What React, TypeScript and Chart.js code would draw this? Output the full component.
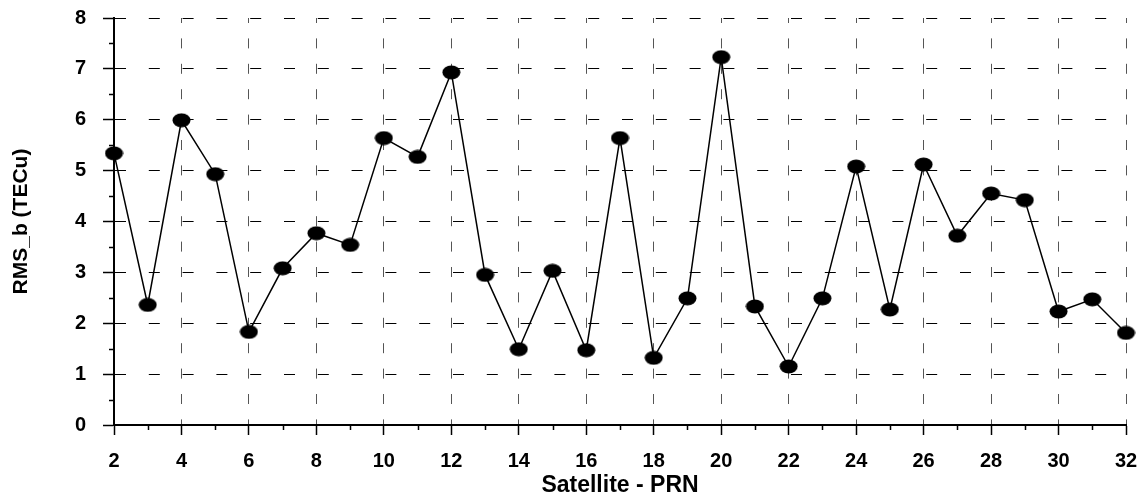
import React, { useEffect, useRef } from "react";
import { Chart, registerables } from "chart.js";

Chart.register(...registerables);

const prn: number[] = [2, 3, 4, 5, 6, 7, 8, 9, 10, 11, 12, 13, 14, 15, 16, 17, 18, 19, 20, 21, 22, 23, 24, 25, 26, 27, 28, 29, 30, 31, 32];
const rms: number[] = [5.34, 2.36, 5.99, 4.93, 1.83, 3.08, 3.77, 3.54, 5.64, 5.27, 6.93, 2.95, 1.49, 3.03, 1.47, 5.64, 1.32, 2.49, 7.23, 2.33, 1.15, 2.49, 5.08, 2.27, 5.12, 3.72, 4.55, 4.42, 2.23, 2.47, 1.81];
const yMinorTicks: number[] = [0.5, 1.5, 2.5, 3.5, 4.5, 5.5, 6.5, 7.5];
const xMinorTicks: number[] = [3, 5, 7, 9, 11, 13, 15, 17, 19, 21, 23, 25, 27, 29, 31];

const FONT = "'Liberation Sans', Arial, sans-serif";

function makeMarker(): HTMLCanvasElement {
  const c = document.createElement("canvas");
  c.width = 19;
  c.height = 15;
  const g = c.getContext("2d")!;
  g.fillStyle = "#000";
  g.beginPath();
  g.ellipse(9.5, 7.5, 9, 7, 0, 0, Math.PI * 2);
  g.fill();
  return c;
}

const minorTicksPlugin = {
  id: "minorTicks",
  afterDraw(chart: any) {
    const { ctx, scales, chartArea } = chart;
    const x = scales.x;
    const y = scales.y;
    ctx.save();
    ctx.strokeStyle = "#000";
    ctx.lineWidth = 1.5;
    ctx.beginPath();
    for (const v of yMinorTicks) {
      const py = Math.round(y.getPixelForValue(v)) + 0.5;
      ctx.moveTo(chartArea.left - 5, py);
      ctx.lineTo(chartArea.left, py);
    }
    for (const v of xMinorTicks) {
      const px = Math.round(x.getPixelForValue(v)) + 0.5;
      ctx.moveTo(px, chartArea.bottom);
      ctx.lineTo(px, chartArea.bottom + 5);
    }
    ctx.stroke();
    ctx.restore();
  },
};

export default function App() {
  const ref = useRef<HTMLCanvasElement | null>(null);
  useEffect(() => {
    document.body.style.margin = "0";
    const canvas = ref.current!;
    const marker = makeMarker();
    const chart = new Chart(canvas, {
      type: "line",
      data: {
        datasets: [
          {
            data: prn.map((p, i) => ({ x: p, y: rms[i] })),
            borderColor: "#000",
            borderWidth: 1.5,
            pointStyle: marker as any,
            pointRadius: 8,
            pointHoverRadius: 8,
            backgroundColor: "#000",
            tension: 0,
            clip: false as any,
          },
        ],
      },
      options: {
        responsive: false,
        animation: false,
        events: [],
        layout: { padding: { top: 18, right: 17, left: 0, bottom: 0 } },
        plugins: { legend: { display: false }, tooltip: { enabled: false } },
        scales: {
          x: {
            type: "linear",
            min: 2,
            max: 32,
            afterFit(scale: any) {
              scale.height = 74;
              scale.paddingLeft = 0;
              scale.paddingRight = 0;
            },
            ticks: {
              stepSize: 1,
              autoSkip: false,
              maxRotation: 0,
              padding: 14,
              color: "#000",
              font: { family: FONT, size: 20, weight: "bold" },
              callback: (v: any) => (Number(v) % 2 === 0 ? String(v) : ""),
            },
            grid: {
              color: (c: any) => (c.tick && c.tick.value % 2 === 0 ? "#555" : "rgba(0,0,0,0)"),
              tickColor: (c: any) => (c.tick && c.tick.value % 2 === 0 ? "#000" : "rgba(0,0,0,0)"),
              lineWidth: 1,
              tickLength: 10,
              tickWidth: 1.5,
            },
            border: { display: true, color: "#000", width: 2, dash: [10, 15.4], dashOffset: 5 },
            title: {
              display: true,
              text: "Satellite - PRN",
              color: "#000",
              font: { family: FONT, size: 23, weight: "bold" },
              padding: { top: 0, bottom: 0 },
            },
          },
          y: {
            type: "linear",
            min: 0,
            max: 8,
            afterFit(scale: any) {
              scale.width = 114;
              scale.paddingTop = 0;
              scale.paddingBottom = 0;
            },
            ticks: {
              stepSize: 1,
              padding: 17,
              color: "#000",
              font: { family: FONT, size: 20, weight: "bold" },
            },
            grid: {
              color: "#000",
              lineWidth: 1,
              tickLength: 11,
              tickColor: "#000",
              tickWidth: 1.5,
            },
            border: { display: true, color: "#000", width: 2, dash: [11, 22.8] },
            title: {
              display: true,
              text: "RMS_b (TECu)",
              color: "#000",
              font: { family: FONT, size: 21, weight: "bold" },
              padding: { top: 9, bottom: 0 },
            },
          },
        },
      },
      plugins: [minorTicksPlugin],
    });
    return () => chart.destroy();
  }, []);
  return <canvas ref={ref} width={1143} height={499} style={{ display: "block" }} />;
}
